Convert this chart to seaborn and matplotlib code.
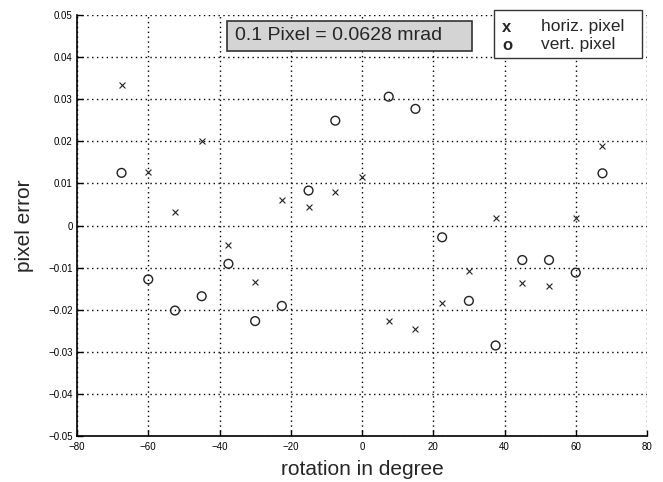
import matplotlib
matplotlib.use("Agg")
import matplotlib.pyplot as plt
import seaborn as sns
import pandas as pd
from matplotlib.patches import Rectangle

# ---- data ----
angles_h = [-67.5, -60, -52.5, -45, -37.5, -30, -22.5, -15, -7.5, 0,
            7.5, 15, 22.5, 30, 37.5, 45, 52.5, 60, 67.5]
err_h = [0.0333, 0.0128, 0.0033, 0.0201, -0.0046, -0.0135, 0.0061, 0.0045, 0.0080, 0.0116,
         -0.0226, -0.0247, -0.0183, -0.0107, 0.0019, -0.0137, -0.0143, 0.0017, 0.0190]
angles_v = [-67.5, -60, -52.5, -45, -37.5, -30, -22.5, -15, -7.5,
            7.5, 15, 22.5, 30, 37.5, 45, 52.5, 60, 67.5]
err_v = [0.0125, -0.0128, -0.0202, -0.0168, -0.0091, -0.0227, -0.0191, 0.0083, 0.0249,
         0.0306, 0.0277, -0.0028, -0.0179, -0.0285, -0.0082, -0.0082, -0.0112, 0.0124]
xticks = [-80, -60, -40, -20, 0, 20, 40, 60, 80]
yticks = [-0.05, -0.04, -0.03, -0.02, -0.01, 0, 0.01, 0.02, 0.03, 0.04, 0.05]
ytick_labels = ["\u22120.05", "\u22120.04", "\u22120.03", "\u22120.02", "\u22120.01", "0",
                "0.01", "0.02", "0.03", "0.04", "0.05"]
xtick_labels = ["\u221280", "\u221260", "\u221240", "\u221220", "0", "20", "40", "60", "80"]

sns.set_style("white")
plt.rcParams['font.family'] = ['Liberation Sans', 'DejaVu Sans']

df_h = pd.DataFrame({"angle": angles_h, "err": err_h})
df_v = pd.DataFrame({"angle": angles_v, "err": err_v})

fig = plt.figure(figsize=(6.63, 4.82), dpi=100)
ax = fig.add_axes([77/663, 46/482, 570/663, 421/482])

sns.scatterplot(data=df_h, x="angle", y="err", marker="x", s=18, color="#222222",
                linewidth=0.8, ax=ax, zorder=3)
sns.scatterplot(data=df_v, x="angle", y="err", marker="o", s=40, facecolors="none",
                edgecolor="#222222", linewidth=1.0, ax=ax, zorder=3)

ax.set_xlim(-80, 80)
ax.set_ylim(-0.05, 0.05)
ax.set_xticks(xticks)
ax.set_xticklabels(xtick_labels)
ax.set_yticks(yticks)
ax.set_yticklabels(ytick_labels)
ax.tick_params(direction="in", length=4, width=1, labelsize=7, colors="black",
               left=True, bottom=True)
ax.tick_params(axis="x", pad=4)
ax.tick_params(axis="y", pad=3)
ax.grid(True, linestyle=(0, (1, 2.5)), color="black", linewidth=1.0)
for s in ["top", "right"]:
    ax.spines[s].set_visible(False)
for s in ["left", "bottom"]:
    ax.spines[s].set_color("black")
    ax.spines[s].set_linewidth(1.2)
ax.set_xlabel("rotation in degree", fontsize=15, labelpad=6)
ax.set_ylabel("pixel error", fontsize=15, labelpad=10)

# annotation box
fig.patches.append(Rectangle((227/663, (482-51)/482), 245/663, 30/482,
                             transform=fig.transFigure, facecolor="#d4d4d4",
                             edgecolor="#333333", linewidth=1.2, zorder=5))
fig.text(235/663, (482-36)/482, "0.1 Pixel = 0.0628 mrad", fontsize=14,
         va="center", ha="left", zorder=6)

# legend box
fig.patches.append(Rectangle((494/663, (482-58)/482), 148/663, 48/482,
                             transform=fig.transFigure, facecolor="white",
                             edgecolor="#333333", linewidth=1.0, zorder=5))
fig.text(502/663, (482-28)/482, "x", fontsize=12, fontweight="bold", va="center", zorder=6)
fig.text(502/663, (482-46)/482, "o", fontsize=12, fontweight="bold", va="center", zorder=6)
fig.text(541/663, (482-27)/482, "horiz. pixel", fontsize=12.5, va="center", zorder=6)
fig.text(541/663, (482-45)/482, "vert. pixel", fontsize=12.5, va="center", zorder=6)

fig.savefig("out.png", dpi=100)
